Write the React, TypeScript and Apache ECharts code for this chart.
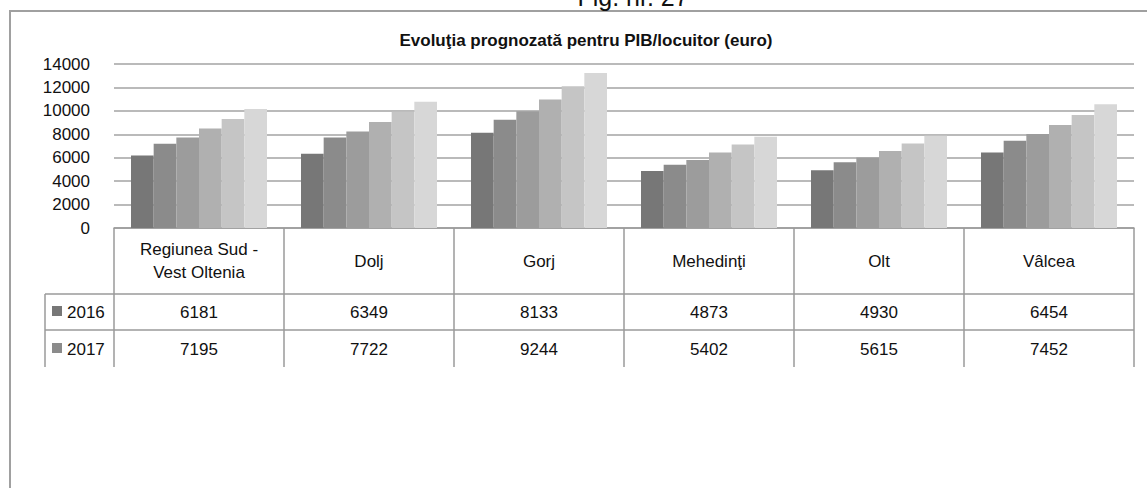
import React, { useEffect, useRef } from "react";
import * as echarts from "echarts";

const categories = ["Regiunea Sud -\nVest Oltenia", "Dolj", "Gorj", "Mehedinţi", "Olt", "Vâlcea"];
const years = ["2016", "2017", "2018", "2019", "2020", "2021"];
const v2016 = [6181, 6349, 8133, 4873, 4930, 6454];
const v2017 = [7195, 7722, 9244, 5402, 5615, 7452];
const v2018 = [7730, 8245, 9963, 5806, 6012, 8014];
const v2019 = [8503, 9044, 10960, 6442, 6580, 8787];
const v2020 = [9302, 9929, 12110, 7129, 7215, 9646];
const v2021 = [10160, 10788, 13227, 7782, 7868, 10564];
const seriesValues = [v2016, v2017, v2018, v2019, v2020, v2021];
const tableRows = [v2016, v2017];
const colors = ["#777777", "#8b8b8b", "#9c9c9c", "#b0b0b0", "#c5c5c5", "#d7d7d7"];
const yMin = 0;
const yMax = 14000;
const yStep = 2000;
const titleText = "Evoluţia prognozată pentru PIB/locuitor (euro)";
const figText = "Fig. nr. 27";

const FONT = '"Liberation Sans", Arial, sans-serif';
const GRID_L = 114;
const GRID_R = 1134;
const GRID_T = 64;
const GRID_B = 228;
const LINE = "#9a9a9a";
const FS = 17;

export default function App() {
  const ref = useRef<HTMLDivElement>(null);
  useEffect(() => {
    if (!ref.current) return;
    const chart = echarts.init(ref.current, undefined, { renderer: "svg" });
    const rowMargins = [84, 121];
    const option: any = {
      animation: false,
      backgroundColor: "#ffffff",
      textStyle: { fontFamily: FONT },
      grid: { left: GRID_L, right: 1147 - GRID_R, top: GRID_T, height: GRID_B - GRID_T },
      xAxis: [
        {
          type: "category",
          data: categories,
          axisLine: { lineStyle: { color: LINE, width: 1.5 } },
          axisTick: { show: true, length: 139, alignWithLabel: false, lineStyle: { color: LINE, width: 1.5 } },
          axisLabel: {
            interval: 0,
            margin: 33,
            fontSize: FS,
            lineHeight: 23,
            color: "#111",
            fontFamily: FONT,
            verticalAlign: "middle",
          },
          splitLine: { show: false },
        },
        ...tableRows.map((row, r) => ({
          type: "category",
          data: categories,
          position: "bottom",
          axisLine: { show: false },
          axisTick: { show: false },
          splitLine: { show: false },
          axisLabel: {
            interval: 0,
            margin: rowMargins[r],
            fontSize: FS,
            color: "#111",
            fontFamily: FONT,
            verticalAlign: "middle",
            formatter: (_v: string, i: number) => String(row[i]),
          },
        })),
      ],
      yAxis: {
        type: "value",
        min: yMin,
        max: yMax,
        interval: yStep,
        axisLine: { show: false },
        axisTick: { show: false },
        axisLabel: {
          fontSize: FS,
          margin: 24,
          color: "#111",
          fontFamily: FONT,
          formatter: (v: number) => String(v),
        },
        splitLine: { lineStyle: { color: "#a3a3a3", width: 1.5 } },
      },
      series: years.map((y, i) => ({
        name: y,
        type: "bar",
        xAxisIndex: 0,
        data: seriesValues[i],
        barGap: "0%",
        barCategoryGap: "20%",
        itemStyle: { color: colors[i] },
      })),
      graphic: [
        {
          type: "rect",
          shape: { x: 10, y: 11, width: 1170, height: 500 },
          style: { fill: "none", stroke: "#a0a0a0", lineWidth: 2 },
          silent: true,
        },
        {
          type: "text",
          x: 633,
          y: 9,
          style: { text: figText, fontSize: 25, fontFamily: FONT, fill: "#111", align: "center", verticalAlign: "bottom" },
        },
        {
          type: "text",
          x: 586,
          y: 40,
          style: { text: titleText, fontSize: 17, fontWeight: "bold", fontFamily: FONT, fill: "#111", align: "center", verticalAlign: "middle" },
        },
        { type: "line", shape: { x1: 45, y1: 294, x2: GRID_R, y2: 294 }, style: { stroke: LINE, lineWidth: 1.5 } },
        { type: "line", shape: { x1: 45, y1: 330, x2: GRID_R, y2: 330 }, style: { stroke: LINE, lineWidth: 1.5 } },
        { type: "line", shape: { x1: 45, y1: 294, x2: 45, y2: 367 }, style: { stroke: LINE, lineWidth: 1.5 } },
        ...tableRows.flatMap((_row, r) => {
          const cy = [312, 349][r];
          return [
            { type: "rect", shape: { x: 52, y: cy - 6, width: 10, height: 10 }, style: { fill: colors[r] } },
            {
              type: "text",
              x: 67,
              y: cy,
              style: { text: years[r], fontSize: FS, fontFamily: FONT, fill: "#111", verticalAlign: "middle" },
            },
          ];
        }),
      ],
    };
    chart.setOption(option);
    return () => chart.dispose();
  }, []);
  return <div ref={ref} style={{ position: "fixed", left: 0, top: 0, width: 1147, height: 488 }} />;
}
